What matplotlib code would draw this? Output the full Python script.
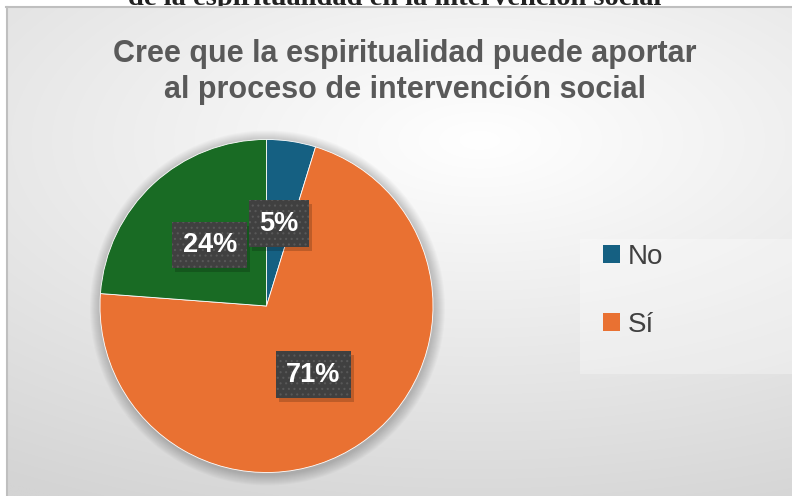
import numpy as np
import matplotlib
matplotlib.use("Agg")
import matplotlib.pyplot as plt
from matplotlib.patches import Rectangle, Circle

plt.rcParams["hatch.linewidth"] = 0.8

# ---- data ----
categories = ["No", "Sí", ""]
values = [1, 15, 5]
colors = ["#156082", "#E97132", "#196B24"]
legend_labels = ["No", "Sí"]
title = "Cree que la espiritualidad puede aportar\nal proceso de intervención social"
top_text = "de la espiritualidad en la intervención social"

W, H = 792, 496
fig = plt.figure(figsize=(W / 100, H / 100), dpi=100)
fig.patch.set_facecolor("white")
ax = fig.add_axes([0, 0, 1, 1])

# cut-off caption text above the chart
ax.text(395, H - 5, top_text, ha="center", va="baseline", fontsize=20.5,
        family="Liberation Serif", fontweight="bold", color="#222222", zorder=0)

# chart background gradient
x0, x1, y0, y1 = 6, W, 0, H - 7
xs = np.linspace(x0, x1, 500)
ys = np.linspace(y1, y0, 320)  # top row first
X, Y = np.meshgrid(xs, ys)
Yd = H - Y  # downward pixel coordinate
drop = np.sqrt((0.049 * (X - 480)) ** 2 + (0.106 * (Yd - 140)) ** 2)
v = np.clip(255 - drop, 212, 255) / 255
img = np.dstack([v, v, v])
ax.imshow(img, extent=(x0, x1, y0, y1), zorder=1, aspect="auto", interpolation="bilinear")
ax.plot([x0 + 0.5, x0 + 0.5], [0, y1], color="#bfbfbf", lw=1.5, zorder=2)
ax.plot([x0, W], [y1, y1], color="#bfbfbf", lw=1.5, zorder=2)

# pie
cx, cy, r = 266.5, H - 306, 166.5
for k in range(1, 12):
    ax.add_patch(Circle((cx + 1, cy - 2), r + k, facecolor="black",
                        edgecolor="none", alpha=0.018, zorder=2))
wedges, texts, autotexts = ax.pie(
    values, colors=colors, startangle=90, counterclock=False,
    center=(cx, cy), radius=r, autopct="%.0f%%", pctdistance=0.5,
    wedgeprops=dict(linewidth=0.6, edgecolor="#ffffff", zorder=3),
    textprops=dict(color="white", fontsize=19.5, fontweight="bold",
                   family="Liberation Sans", zorder=6))
for at in autotexts:
    at.set_ha("center")
    at.set_va("center")
    at.set_bbox(dict(boxstyle="square,pad=0.38", facecolor="#404040",
                     edgecolor="#585858", linewidth=0, hatch="..."))

ax.set_xlim(0, W)
ax.set_ylim(0, H)
ax.set_aspect("auto")
ax.axis("off")

# drop shadows behind the label boxes
fig.canvas.draw()
inv = ax.transData.inverted()
for at in autotexts:
    bb = at.get_bbox_patch().get_window_extent()
    (bx0, by0), (bx1, by1) = inv.transform([[bb.x0, bb.y0], [bb.x1, bb.y1]])
    ax.add_patch(Rectangle((bx0 + 3, by0 - 4), bx1 - bx0, by1 - by0,
                           facecolor="black", alpha=0.18, edgecolor="none",
                           zorder=5))

# title
ax.text(405, H - 72, title, ha="center", va="center", fontsize=22,
        fontweight="bold", color="#595959", family="Liberation Sans",
        linespacing=1.22, zorder=6)

# legend
ax.add_patch(Rectangle((580, H - 374), W - 580, 135, facecolor="white",
                       edgecolor="none", alpha=0.3, zorder=2))
leg = ax.legend(wedges[:2], legend_labels, loc="upper left",
                bbox_to_anchor=(603 / W, 1 - 244 / H), frameon=False,
                prop=dict(family="Liberation Sans", size=20),
                handlelength=0.6, handleheight=0.6, handletextpad=0.3,
                labelspacing=1.5, borderpad=0, borderaxespad=0)
for txt in leg.get_texts():
    txt.set_color("#404040")
for h in leg.legend_handles:
    h.set_linewidth(0)
leg.set_zorder(6)

fig.savefig("out.png", dpi=100)
